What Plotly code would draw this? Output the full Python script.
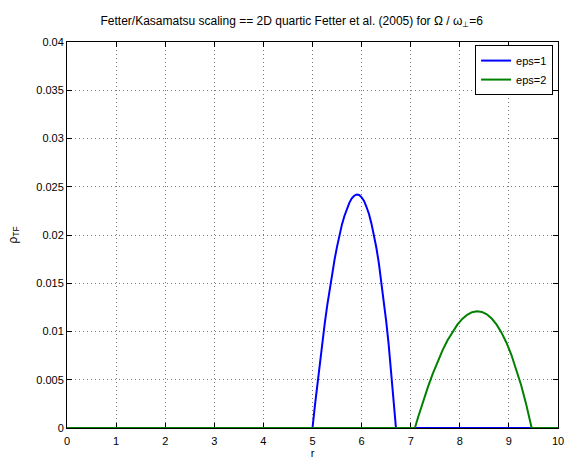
import plotly.graph_objects as go

# Thomas-Fermi density profiles, rho_TF(r), for two eps values
r_eps1 = [0.0, 5.00, 5.05, 5.10, 5.15, 5.20, 5.25, 5.30, 5.35, 5.40, 5.45, 5.50,
          5.55, 5.60, 5.65, 5.70, 5.75, 5.80, 5.85, 5.90, 5.95, 6.00, 6.05, 6.10,
          6.15, 6.20, 6.25, 6.30, 6.35, 6.40, 6.45, 6.50, 6.55, 6.60, 6.65, 6.70, 10.0]
rho_eps1 = [0.0, 0.0, 0.00238, 0.00467, 0.00684, 0.00891, 0.01087, 0.0127, 0.01442,
            0.0160, 0.01748, 0.0188, 0.0200, 0.0211, 0.02197, 0.0227, 0.02333, 0.0238,
            0.02407, 0.0242, 0.02415, 0.0239, 0.02353, 0.0229, 0.02218, 0.0212, 0.02005,
            0.0187, 0.01713, 0.0153, 0.01336, 0.0111, 0.00871, 0.0060, 0.0031, 0.0, 0.0]

r_eps2 = [0.0, 7.085, 7.15, 7.25, 7.35, 7.45, 7.55, 7.65, 7.75, 7.85, 7.95, 8.05,
          8.15, 8.25, 8.35, 8.45, 8.55, 8.65, 8.75, 8.85, 8.95, 9.05, 9.15, 9.25,
          9.35, 9.40, 9.464, 10.0]
rho_eps2 = [0.0, 0.0, 0.00111, 0.00273, 0.00424, 0.00564, 0.00692, 0.00807, 0.00909,
            0.00997, 0.01071, 0.01130, 0.01173, 0.01200, 0.01210, 0.01203, 0.01178,
            0.01134, 0.01071, 0.00988, 0.00884, 0.00759, 0.00612, 0.00443, 0.00250,
            0.00144, 0.0, 0.0]

x_ticks = [0, 1, 2, 3, 4, 5, 6, 7, 8, 9, 10]
y_ticks = [0, 0.005, 0.01, 0.015, 0.02, 0.025, 0.03, 0.035, 0.04]
y_tick_text = ["0", "0.005", "0.01", "0.015", "0.02", "0.025", "0.03", "0.035", "0.04"]

FONT = "Liberation Sans, Arial, Helvetica, sans-serif"

fig = go.Figure()
fig.add_trace(go.Scatter(x=r_eps1, y=rho_eps1, mode="lines", name="eps=1",
                         line=dict(color="#0000ff", width=2)))
fig.add_trace(go.Scatter(x=r_eps2, y=rho_eps2, mode="lines", name="eps=2",
                         line=dict(color="#008000", width=2)))

axis_common = dict(
    showline=True, linecolor="black", linewidth=1, mirror="ticks",
    ticks="inside", ticklen=5, tickcolor="black", tickwidth=1,
    showgrid=True, gridcolor="#7a7a7a", griddash="1px,3px", gridwidth=1,
    zeroline=False, tickfont=dict(family=FONT, size=11, color="black"),
    layer="below traces", automargin=False,
)

fig.update_xaxes(range=[0, 10], tickvals=x_ticks, ticklabelstandoff=3,
                 title=dict(text="r", font=dict(family=FONT, size=11, color="black"),
                            standoff=0),
                 **axis_common)
fig.update_yaxes(range=[0, 0.04], tickvals=y_ticks, ticktext=y_tick_text,
                 title=dict(text="ρ<sub>TF</sub>", font=dict(family=FONT, size=12, color="black"),
                            standoff=16),
                 **axis_common)

fig.update_layout(
    width=572, height=460,
    margin=dict(l=67, r=14, t=42, b=32),
    paper_bgcolor="white", plot_bgcolor="white",
    title=dict(text="Fetter/Kasamatsu scaling == 2D quartic Fetter et al. (2005) for Ω / ω<sub>⊥</sub>=6",
               font=dict(family=FONT, size=12, color="black"),
               x=0.51, xanchor="center", y=0.955, yanchor="middle"),
    legend=dict(x=0.99, y=0.992, xanchor="right", yanchor="top",
                bgcolor="white", bordercolor="black", borderwidth=1,
                font=dict(family=FONT, size=11, color="black"),
                tracegroupgap=0, itemwidth=30),
    showlegend=True,
)

fig.write_html("out.html")
